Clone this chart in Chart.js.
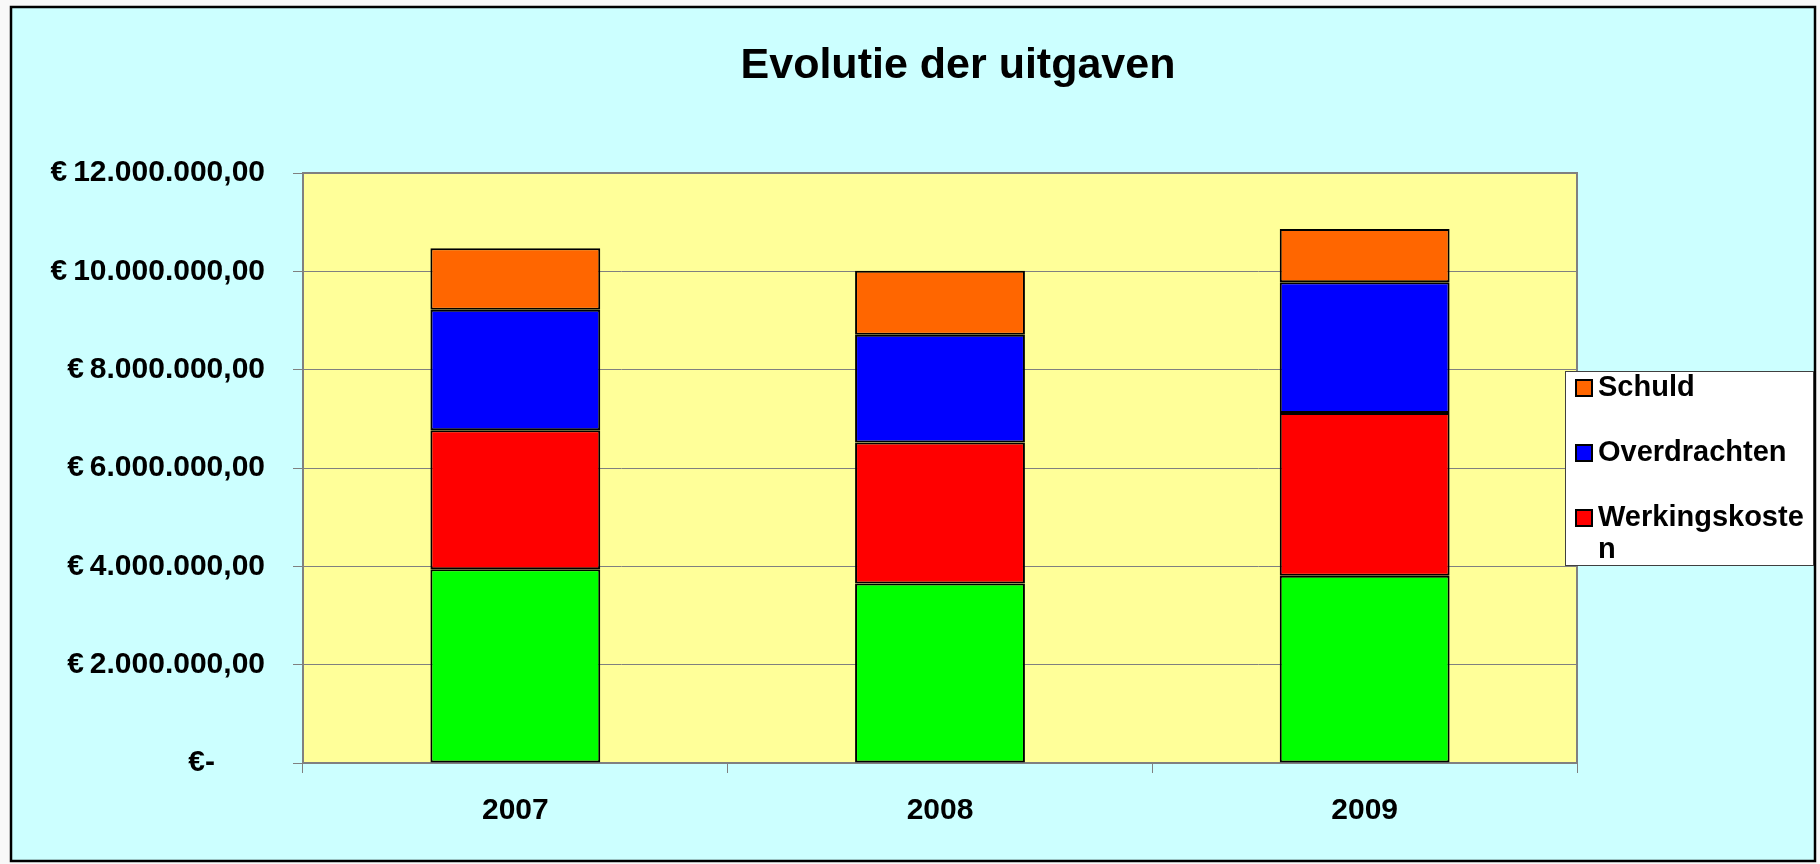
<!DOCTYPE html>
<html lang="nl">
<head>
<meta charset="utf-8">
<title>Evolutie der uitgaven</title>
<script src="https://cdn.jsdelivr.net/npm/chart.js@4/dist/chart.umd.min.js"></script>
<style>
  html, body { margin: 0; padding: 0; background: #f8f8f8; }
  #wrap { width: 1820px; height: 864px; position: relative; }
</style>
</head>
<body>
<div id="wrap"><canvas id="uitgavenChart"></canvas></div>
<script>
const titel = "Evolutie der uitgaven";
const jaren = ["2007", "2008", "2009"];
const personeel = [3940000, 3650000, 3810000];
const werkingskosten = [2830000, 2870000, 3310000];
const overdrachten = [2450000, 2190000, 2660000];
const schuld = [1250000, 1300000, 1080000];
const yMax = 12000000;
const yStap = 2000000;

document.addEventListener("DOMContentLoaded", () => {
  initChart();
});

function formatEuro(waarde) {
  if (waarde === 0) return "€-      ";
  const delen = Math.round(waarde).toString().replace(/\B(?=(\d{3})+(?!\d))/g, ".");
  return "€\u2009" + delen + ",00";
}

// achtergrond van de grafiek en het plotvlak
const achtergrond = {
  id: "achtergrond",
  beforeDraw(chart) {
    const { ctx, chartArea: a } = chart;
    ctx.save();
    ctx.fillStyle = "#f8f8f8";
    ctx.fillRect(0, 0, chart.width, chart.height);
    ctx.fillStyle = "#CCFFFF";
    ctx.fillRect(11, 7, 1804, 854);
    ctx.strokeStyle = "#000000";
    ctx.lineWidth = 2.5;
    ctx.strokeRect(11, 7, 1804, 854);
    ctx.fillStyle = "#FFFF99";
    ctx.fillRect(a.left, a.top, a.width, a.height);
    ctx.restore();
  },
  beforeDatasetsDraw(chart) {
    const { ctx, chartArea: a } = chart;
    ctx.save();
    ctx.strokeStyle = "#808080";
    ctx.lineWidth = 2;
    ctx.strokeRect(a.left, a.top, a.width, a.height);
    ctx.restore();
  }
};

// titel staat in Excel iets rechts van het midden
const titelPlugin = {
  id: "titelPlugin",
  afterDraw(chart) {
    const ctx = chart.ctx;
    ctx.save();
    ctx.font = "bold 43px 'Liberation Sans', Arial, sans-serif";
    ctx.fillStyle = "#000000";
    ctx.textAlign = "center";
    ctx.textBaseline = "alphabetic";
    ctx.fillText(titel, 958, 78);
    ctx.restore();
  }
};

// legende zoals in Excel: smal kader dat over het plotvlak valt
const legende = {
  id: "legende",
  afterDraw(chart) {
    const ctx = chart.ctx;
    const box = { x: 1565, y: 371, w: 248, h: 194 };
    ctx.save();
    ctx.fillStyle = "#FFFFFF";
    ctx.fillRect(box.x, box.y, box.w, box.h);
    ctx.strokeStyle = "#404040";
    ctx.lineWidth = 1;
    ctx.strokeRect(box.x + 0.5, box.y + 0.5, box.w, box.h);

    ctx.font = "bold 29px 'Liberation Sans', Arial, sans-serif";
    ctx.textBaseline = "middle";
    const tekstX = 1598;
    const maxBreedte = 222;
    let y = 388;
    const volgorde = [3, 2, 1]; // groene reeks valt buiten het kader
    volgorde.forEach((i) => {
      const ds = chart.data.datasets[i];
      ctx.fillStyle = ds.backgroundColor;
      ctx.fillRect(1576, y - 8, 16, 16);
      ctx.strokeStyle = "#000000";
      ctx.lineWidth = 2;
      ctx.strokeRect(1576, y - 8, 16, 16);
      ctx.fillStyle = "#000000";
      const regels = breekTekst(ctx, ds.label, maxBreedte);
      regels.forEach((regel, r) => {
        ctx.fillText(regel, tekstX, y + r * 32);
      });
      y += 65;
    });
    ctx.restore();
  }
};

function breekTekst(ctx, tekst, max) {
  const regels = [];
  let huidig = "";
  for (const teken of tekst) {
    if (ctx.measureText(huidig + teken).width > max && huidig) {
      regels.push(huidig);
      huidig = teken;
    } else {
      huidig += teken;
    }
  }
  regels.push(huidig);
  return regels;
}

function initChart() {
  const ctx = document.getElementById("uitgavenChart").getContext("2d");
  Chart.defaults.font.family = "'Liberation Sans', Arial, sans-serif";
  Chart.defaults.font.weight = "bold";
  Chart.defaults.color = "#000000";

  const reeks = (label, data, kleur) => ({
    label: label,
    data: data,
    backgroundColor: kleur,
    borderColor: "#000000",
    borderWidth: 2,
    borderSkipped: false,
    barPercentage: 0.4,
    categoryPercentage: 1
  });

  new Chart(ctx, {
    type: "bar",
    data: {
      labels: jaren,
      datasets: [
        reeks("Personeelskosten", personeel, "#00FF00"),
        reeks("Werkingskosten", werkingskosten, "#FF0000"),
        reeks("Overdrachten", overdrachten, "#0000FF"),
        reeks("Schuld", schuld, "#FF6600")
      ]
    },
    options: {
      responsive: true,
      maintainAspectRatio: false,
      animation: false,
      layout: { padding: { left: 0, right: 243, top: 173, bottom: 0 } },
      plugins: {
        legend: { display: false },
        tooltip: { enabled: false },
        title: { display: false }
      },
      scales: {
        x: {
          stacked: true,
          grid: { drawOnChartArea: false, color: "#808080", tickLength: 10 },
          border: { display: false },
          ticks: { font: { size: 30, weight: "bold" }, padding: 20 },
          afterFit: (scale) => { scale.height = 101; }
        },
        y: {
          stacked: true,
          min: 0,
          max: yMax,
          grid: { color: "#808080", tickLength: 10 },
          border: { display: false },
          ticks: {
            stepSize: yStap,
            font: { size: 30, weight: "bold" },
            padding: 28,
            callback: (waarde) => formatEuro(waarde)
          },
          afterFit: (scale) => { scale.width = 303; }
        }
      }
    },
    plugins: [achtergrond, titelPlugin, legende]
  });
}
</script>
</body>
</html>
